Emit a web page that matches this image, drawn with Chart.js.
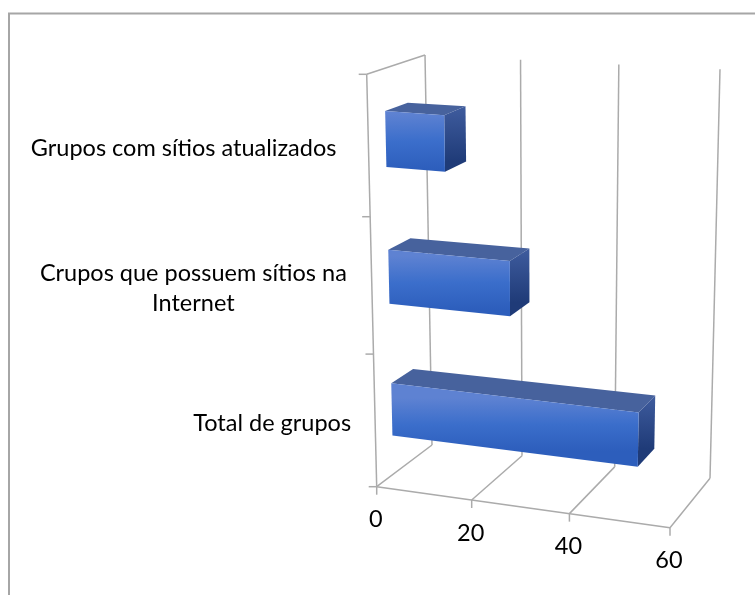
<!DOCTYPE html>
<html>
<head>
<meta charset="utf-8">
<title>Grupos</title>
<script src="https://cdn.jsdelivr.net/npm/chart.js@4"></script>
<style>
    html, body { margin: 0; padding: 0; background: #fff; }
    canvas { display: block; }
</style>
</head>
<body>
<canvas id="chart" width="755" height="595"></canvas>
<script>
const categories = ['Grupos com sítios atualizados', ['Crupos que possuem sítios na', 'Internet'], 'Total de grupos'];
const seriesValues = [12, 25, 51];
const axisMax = 60;
const axisStep = 20;

// corners of the 3D box on the page: [u][v][w] = value, height, depth
const corners = {
    '000': [376.7, 486.7], '100': [670, 527.7],
    '010': [366.7, 74.3], '110': [680, 96],
    '001': [432, 445], '101': [710, 478.3],
    '011': [425, 55], '111': [720, 69.3]
};
const barDepth = [0.3, 0.69];
const labelGap = [32, 25, 24];
const textFont = '23.5px Lato, "Open Sans", sans-serif';

// perspective makes the spacing uneven along both axes
function warp(t, k) {
    return k * t / (1 + (k - 1) * t);
}

function project(u, v, w) {
    const uu = warp(u, 0.958);
    const vv = 1 - warp(1 - v, 1.055);
    const out = [0, 0];
    for (const key in corners) {
        const weight = (key[0] === '1' ? uu : 1 - uu) * (key[1] === '1' ? vv : 1 - vv) * (key[2] === '1' ? w : 1 - w);
        out[0] += corners[key][0] * weight;
        out[1] += corners[key][1] * weight;
    }
    return out;
}

function segment(ctx, a, b) {
    ctx.beginPath();
    ctx.moveTo(a[0], a[1]);
    ctx.lineTo(b[0], b[1]);
    ctx.stroke();
}

function face(ctx, points, fill) {
    ctx.beginPath();
    points.forEach((p, i) => i ? ctx.lineTo(p[0], p[1]) : ctx.moveTo(p[0], p[1]));
    ctx.closePath();
    ctx.fillStyle = fill;
    ctx.fill();
}

function gradient(ctx, top, bottom, stops) {
    const g = ctx.createLinearGradient(top[0], top[1], bottom[0], bottom[1]);
    stops.forEach((c, i) => g.addColorStop(i / (stops.length - 1), c));
    return g;
}

function drawFrame(ctx) {
    ctx.strokeStyle = '#a6a6a6';
    ctx.lineWidth = 2;
    ctx.beginPath();
    ctx.moveTo(9, 595);
    ctx.lineTo(9, 13.5);
    ctx.lineTo(755, 13.5);
    ctx.stroke();
}

function drawGrid(chart) {
    const ctx = chart.ctx;
    const xScale = chart.scales.x;
    const area = chart.chartArea;
    ctx.strokeStyle = '#ababab';
    ctx.lineWidth = 1.5;

    xScale.ticks.forEach(tick => {
        const u = (xScale.getPixelForValue(tick.value) - area.left) / area.width;
        segment(ctx, project(u, 0, 0), project(u, 0, 1));
        segment(ctx, project(u, 0, 1), project(u, 1, 1));
        const base = project(u, 0, 0);
        segment(ctx, base, [base[0], base[1] + 8]);
    });

    segment(ctx, project(0, 0, 0), project(1, 0, 0));
    segment(ctx, project(0, 0, 0), project(0, 1, 0));
    segment(ctx, project(0, 1, 0), project(0, 1, 1));

    categories.concat(['']).forEach((c, i) => {
        const p = project(0, i / categories.length, 0);
        segment(ctx, p, [p[0] - 8, p[1]]);
    });
}

function drawBars(chart) {
    const ctx = chart.ctx;
    const area = chart.chartArea;
    const [w0, w1] = barDepth;
    chart.getDatasetMeta(0).data.forEach(bar => {
        const u0 = (bar.base - area.left) / area.width;
        const u1 = (bar.x - area.left) / area.width;
        const vTop = (area.bottom - (bar.y - bar.height / 2)) / area.height;
        const vBot = (area.bottom - (bar.y + bar.height / 2)) / area.height;

        const fTL = project(u0, vTop, w0), fTR = project(u1, vTop, w0);
        const fBL = project(u0, vBot, w0), fBR = project(u1, vBot, w0);
        const bTL = project(u0, vTop, w1), bTR = project(u1, vTop, w1);
        const bBR = project(u1, vBot, w1);

        face(ctx, [fTL, bTL, bTR, fTR], '#47629d');
        face(ctx, [fTR, bTR, bBR, fBR], gradient(ctx, bTR, bBR, ['#3f5c9e', '#1f3b78']));

        const midTop = [(fTL[0] + fTR[0]) / 2, (fTL[1] + fTR[1]) / 2];
        const midBot = [(fBL[0] + fBR[0]) / 2, (fBL[1] + fBR[1]) / 2];
        face(ctx, [fTL, fTR, fBR, fBL], gradient(ctx, midTop, midBot, ['#5e82d2', '#3b6ecb', '#2d5ebc']));
    });
}

function drawLabels(chart) {
    const ctx = chart.ctx;
    const xScale = chart.scales.x;
    const yScale = chart.scales.y;
    const area = chart.chartArea;
    ctx.font = textFont;
    ctx.fillStyle = '#000';
    ctx.textBaseline = 'middle';

    ctx.textAlign = 'center';
    xScale.ticks.forEach(tick => {
        const u = (xScale.getPixelForValue(tick.value) - area.left) / area.width;
        const p = project(u, 0, 0);
        ctx.fillText(String(tick.value), p[0] - 1, p[1] + 33);
    });

    categories.forEach((label, i) => {
        const v = (area.bottom - yScale.getPixelForValue(i)) / area.height;
        const p = project(0, v, 0);
        const lines = Array.isArray(label) ? label : [label];
        const width = Math.max(...lines.map(l => ctx.measureText(l).width));
        const cx = p[0] - labelGap[i] - width / 2;
        lines.forEach((line, n) => {
            ctx.fillText(line, cx, p[1] + 2 + (n - (lines.length - 1) / 2) * 30);
        });
    });
}

const box3d = {
    id: 'box3d',
    beforeDatasetsDraw(chart) {
        drawFrame(chart.ctx);
        drawGrid(chart);
        drawBars(chart);
        drawLabels(chart);
        return false;
    }
};

new Chart(document.getElementById('chart'), {
    type: 'bar',
    data: {
        labels: categories,
        datasets: [{
            data: seriesValues,
            backgroundColor: '#3b6ecb',
            categoryPercentage: 1,
            barPercentage: 0.4
        }]
    },
    options: {
        indexAxis: 'y',
        responsive: false,
        animation: false,
        layout: { padding: { left: 367, right: 85, top: 74, bottom: 108 } },
        plugins: { legend: { display: false }, tooltip: { enabled: false } },
        scales: {
            x: { display: false, min: 0, max: axisMax, ticks: { stepSize: axisStep } },
            y: { display: false }
        }
    },
    plugins: [box3d]
});
</script>
</body>
</html>
